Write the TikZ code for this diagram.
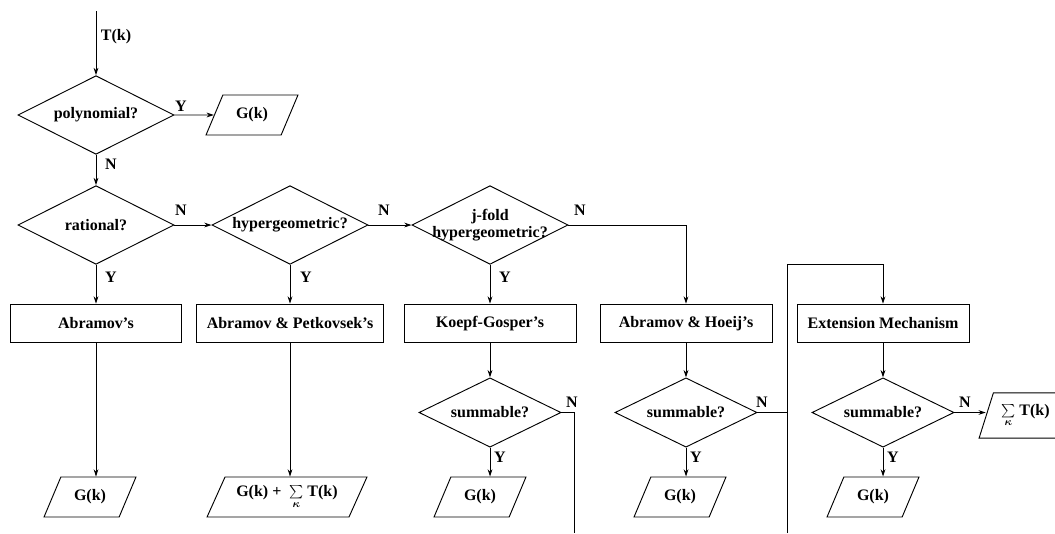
\documentclass[tikz,border=0pt]{standalone}
\usepackage{fontspec}
\setmainfont{Liberation Serif}
\usetikzlibrary{arrows.meta, shapes.geometric}

\begin{document}
\begin{tikzpicture}[x=0.75pt, y=-0.75pt, line width=0.7pt,
    >={Stealth[length=5.5pt, width=3.6pt]},
    txt/.style={font=\fontsize{12}{13}\selectfont\bfseries\boldmath},
    decision/.style={txt, diamond, draw, aspect=2, inner sep=0pt,
        minimum width=117pt, minimum height=59pt},
    smalldecision/.style={decision, minimum width=106.5pt, minimum height=52pt},
    method/.style={txt, rectangle, draw, minimum width=129pt, minimum height=29pt},
    result/.style={txt, trapezium, draw, trapezium left angle=57.5,
        trapezium right angle=122.5, trapezium stretches=true, inner sep=0pt,
        minimum width=69pt, minimum height=30pt}]
    \useasboundingbox (0,0) rectangle (1055,533);

    % Input and type tests
    \coordinate (input) at (96,11);
    \node[txt] (lblT) at (116,37) {T(k)};
    \node[decision] (poly) at (96,115) {polynomial?};
    \node[result] (gpoly) at (252,115) {G(k)};
    \node[decision] (rat) at (96,225) {rational?};
    \node[decision] (hyper) at (290,225) {hypergeometric?};
    \node[decision, align=center, inner xsep=-10pt] (jfold) at (490,225) {j-fold\\hypergeometric?};

    % Algorithms
    \node[method, minimum width=128pt] (abr) at (96,323.5) {Abramov's};
    \node[method, minimum width=140pt] (abrpet) at (290,323.5) {Abramov \& Petkovsek's};
    \node[method] (koepf) at (490,323.5) {Koepf-Gosper's};
    \node[method] (hoeij) at (686,323.5) {Abramov \& Hoeij's};
    \node[method] (ext) at (883,323.5) {Extension Mechanism};

    % Summability tests
    \node[smalldecision] (sumk) at (490,412.5) {summable?};
    \node[smalldecision] (sumh) at (686,412.5) {summable?};
    \node[smalldecision] (sumx) at (883,412.5) {summable?};

    % Results
    \node[result] (gabr) at (90,497) {G(k)};
    \node[result, minimum width=121pt] (gsum) at (287,497) {G(k) + \ $\sum\limits_{\kappa}$ T(k)};
    \node[result] (gkoepf) at (480,497) {G(k)};
    \node[result] (ghoeij) at (680,497) {G(k)};
    \node[result] (gext) at (873,497) {G(k)};
    \node[result, trapezium left angle=65, trapezium right angle=115,
        minimum width=70pt, minimum height=34pt] (sigt) at (1025.5,415.5)
        {$\sum\limits_{\kappa}$ T(k)};

    % Free ends
    \coordinate (kout) at (574,533);
    \coordinate (lpbot) at (787,533);
    \coordinate (lptop) at (787,264);

    % Branch labels
    \node[txt] (y1) at (181,106) {Y};
    \node[txt] (n1) at (111,164) {N};
    \node[txt] (n2) at (181,210) {N};
    \node[txt] (n3) at (384,210) {N};
    \node[txt] (n4) at (580,210) {N};
    \node[txt] (y2) at (111,277) {Y};
    \node[txt] (y3) at (306,277) {Y};
    \node[txt] (y4) at (505,277) {Y};
    \node[txt] (n5) at (572,402) {N};
    \node[txt] (n6) at (762,402) {N};
    \node[txt] (n7) at (965,402) {N};
    \node[txt] (y5) at (500,457) {Y};
    \node[txt] (y6) at (696,457) {Y};
    \node[txt] (y7) at (893,457) {Y};

    % Connectors
    \draw[->] (input) -- (poly);
    \draw[->] (poly) -- (gpoly);
    \draw[->] (poly) -- (rat);
    \draw[->] (rat) -- (hyper);
    \draw[->] (hyper) -- (jfold);
    \draw[->] (jfold.east) -| (hoeij);
    \draw[->] (rat) -- (abr);
    \draw[->] (hyper) -- (abrpet);
    \draw[->] (jfold) -- (koepf);
    \draw[->] (abr) -- (abr |- gabr.north);
    \draw[->] (abrpet) -- (abrpet |- gsum.north);
    \draw[->] (koepf) -- (sumk);
    \draw[->] (sumk) -- (sumk |- gkoepf.north);
    \draw (sumk.east) -| (kout);
    \draw[->] (hoeij) -- (sumh);
    \draw[->] (sumh) -- (sumh |- ghoeij.north);
    \draw (sumh.east) -- (sumh.east -| lptop);
    \draw[->] (lpbot) -- (lptop) -| (ext);
    \draw[->] (ext) -- (sumx);
    \draw[->] (sumx) -- (sumx |- gext.north);
    \draw[->] (sumx.east) -- (sumx.east -| sigt.west);
\end{tikzpicture}
\end{document}
